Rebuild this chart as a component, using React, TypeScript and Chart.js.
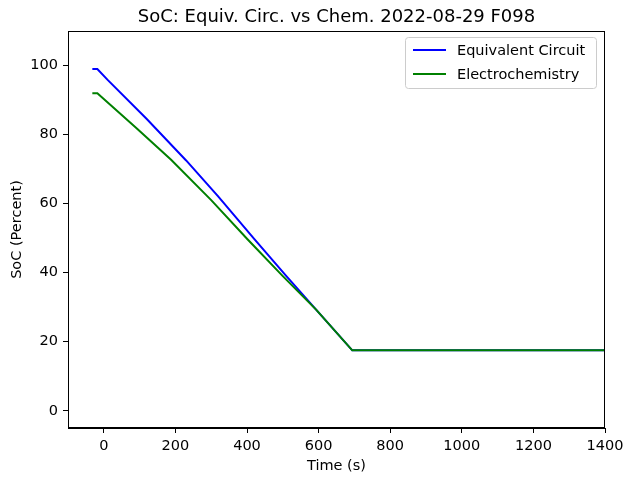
import React, { useEffect, useRef } from "react";
import { Chart, registerables } from "chart.js";

Chart.register(...registerables);

const TITLE = "SoC: Equiv. Circ. vs Chem. 2022-08-29 F098";
const X_LABEL = "Time (s)";
const Y_LABEL = "SoC (Percent)";
const SERIES_NAMES = ["Equivalent Circuit", "Electrochemistry"];
const SERIES_COLORS = ["#0000ff", "#008000"];

const equivTime = [-32, -18, 10, 120, 230, 320, 420, 510, 593, 694, 800, 1000, 1200, 1400];
const equivSoc = [99, 99, 95.9, 84.5, 72.5, 62.0, 49.8, 39.0, 29.3, 17.5, 17.5, 17.5, 17.5, 17.5];

const chemTime = [-32, -18, 90, 188, 300, 402, 500, 593, 694, 800, 1000, 1200, 1400];
const chemSoc = [92, 92, 82.0, 72.7, 61.0, 49.6, 39.0, 29.3, 17.5, 17.5, 17.5, 17.5, 17.5];

const X_TICKS = [0, 200, 400, 600, 800, 1000, 1200, 1400];
const Y_TICKS = [0, 20, 40, 60, 80, 100];

const X_MIN = -100;
const X_MAX = 1400;
const Y_MIN = -5;
const Y_MAX = 110;
const FONT = "'DejaVu Sans', sans-serif";

export default function App() {
  const ref = useRef<HTMLCanvasElement | null>(null);
  useEffect(() => {
    if (!ref.current) return;
    const toPts = (xs: number[], ys: number[]) => xs.map((x, i) => ({ x, y: ys[i] }));
    const framePlugin = {
      id: "frame",
      afterDraw(chart: any) {
        const { ctx, chartArea: a } = chart;
        ctx.save();
        ctx.strokeStyle = "#000";
        ctx.lineWidth = 1;
        ctx.strokeRect(a.left + 0.5, a.top + 0.5, a.right - a.left - 1, a.bottom - a.top - 1);
        // title
        ctx.fillStyle = "#000";
        ctx.font = `18px ${FONT}`;
        ctx.textAlign = "center";
        ctx.textBaseline = "middle";
        ctx.fillText(TITLE, (a.left + a.right) / 2, 17);
        // legend
        const lx = 405, ly = 37, lw = 191, lh = 51;
        ctx.fillStyle = "rgba(255,255,255,0.8)";
        ctx.strokeStyle = "#cccccc";
        ctx.beginPath();
        (ctx as any).roundRect ? (ctx as any).roundRect(lx + 0.5, ly + 0.5, lw, lh, 3) : ctx.rect(lx + 0.5, ly + 0.5, lw, lh);
        ctx.fill();
        ctx.stroke();
        chart.data.datasets.forEach((ds: any, i: number) => {
          const yy = ly + 13 + i * 24;
          ctx.strokeStyle = ds.borderColor;
          ctx.lineWidth = 2;
          ctx.beginPath();
          ctx.moveTo(lx + 8, yy);
          ctx.lineTo(lx + 41, yy);
          ctx.stroke();
          ctx.fillStyle = "#000";
          ctx.font = `14.5px ${FONT}`;
          ctx.textAlign = "left";
          ctx.textBaseline = "middle";
          ctx.fillText(ds.label, lx + 52, yy + 1);
        });
        ctx.restore();
      },
    };
    const chart = new Chart(ref.current, {
      type: "line",
      data: {
        datasets: [
          {
            label: SERIES_NAMES[0],
            data: toPts(equivTime, equivSoc),
            borderColor: SERIES_COLORS[0],
            backgroundColor: SERIES_COLORS[0],
            borderWidth: 2,
            pointRadius: 0,
            tension: 0,
            order: 1,
          },
          {
            label: SERIES_NAMES[1],
            data: toPts(chemTime, chemSoc),
            borderColor: SERIES_COLORS[1],
            backgroundColor: SERIES_COLORS[1],
            borderWidth: 2,
            pointRadius: 0,
            tension: 0,
            order: 0,
          },
        ],
      },
      options: {
        animation: false,
        responsive: false,
        maintainAspectRatio: false,
        layout: { padding: { top: 31, left: 0, right: 18, bottom: 0 } },
        plugins: { legend: { display: false }, title: { display: false }, tooltip: { enabled: false } },
        scales: {
          x: {
            type: "linear",
            min: X_MIN,
            max: X_MAX,
            afterFit(s: any) { s.height = 53; s.paddingRight = 0; s.paddingLeft = 0; },
            afterBuildTicks(s: any) { s.ticks = X_TICKS.map((value) => ({ value })); },
            grid: { drawOnChartArea: false, drawTicks: true, tickLength: 5, color: "#000", tickColor: "#000" },
            border: { display: true, color: "#000", width: 1 },
            ticks: { color: "#000", font: { family: FONT, size: 14.5 }, padding: 5, maxRotation: 0, callback: (v: any) => String(v) },
            title: { display: true, text: X_LABEL, color: "#000", font: { family: FONT, size: 14.5 }, padding: { top: 0, bottom: 6 } },
          },
          y: {
            type: "linear",
            min: Y_MIN,
            max: Y_MAX,
            afterFit(s: any) { s.width = 68; s.paddingTop = 0; s.paddingBottom = 0; },
            afterBuildTicks(s: any) { s.ticks = Y_TICKS.map((value) => ({ value })); },
            grid: { drawOnChartArea: false, drawTicks: true, tickLength: 5, color: "#000", tickColor: "#000" },
            border: { display: true, color: "#000", width: 1 },
            ticks: { color: "#000", font: { family: FONT, size: 14.5 }, padding: 5, callback: (v: any) => String(v) },
            title: { display: true, text: Y_LABEL, color: "#000", font: { family: FONT, size: 14.5 }, padding: { top: 9, bottom: 0 } },
          },
        },
      },
      plugins: [framePlugin],
    });
    return () => chart.destroy();
  }, []);
  return (
    <div style={{ position: "fixed", left: 0, top: 0, width: 623, height: 481, background: "#fff" }}>
      <canvas ref={ref} width={623} height={481} style={{ width: 623, height: 481 }} />
    </div>
  );
}
